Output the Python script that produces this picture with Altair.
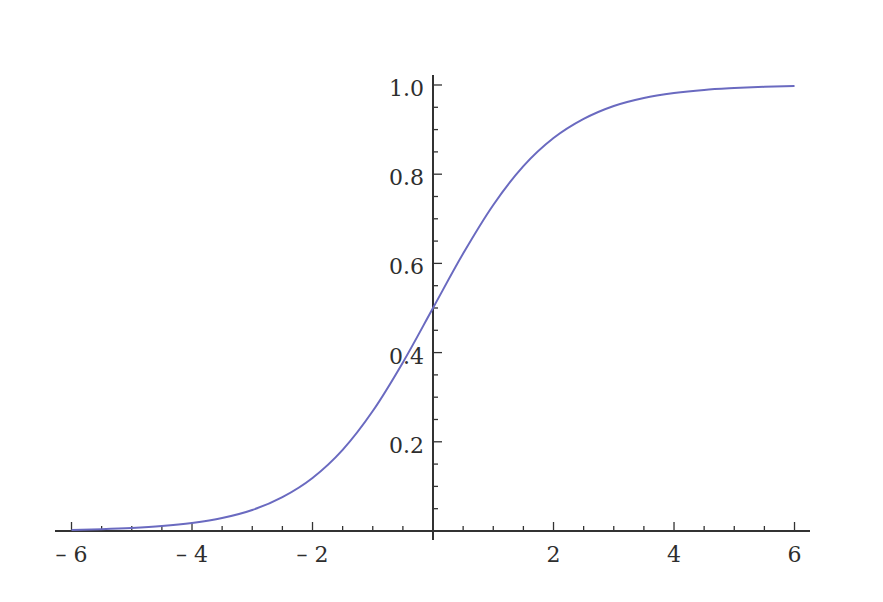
import altair as alt
import pandas as pd

# Curve values
curve_x = [-6, -5.5, -5, -4.5, -4, -3.5, -3, -2.5, -2, -1.5, -1, -0.5, 0,
           0.5, 1, 1.5, 2, 2.5, 3, 3.5, 4, 4.5, 5, 5.5, 6]
curve_y = [0.0025, 0.0041, 0.0067, 0.011, 0.018, 0.029, 0.047, 0.076, 0.119,
           0.182, 0.269, 0.378, 0.5, 0.622, 0.731, 0.818, 0.881, 0.924, 0.953,
           0.971, 0.982, 0.989, 0.993, 0.996, 0.998]

# Axis ticks and labels
x_major = [-6, -4, -2, 2, 4, 6]
x_labels = ["\u2013 6", "\u2013 4", "\u2013 2", "2", "4", "6"]
x_minor = [-5.5, -5, -4.5, -3.5, -3, -2.5, -1.5, -1, -0.5,
           0.5, 1, 1.5, 2.5, 3, 3.5, 4.5, 5, 5.5]
y_major = [0.2, 0.4, 0.6, 0.8, 1.0]
y_labels = ["0.2", "0.4", "0.6", "0.8", "1.0"]
y_minor = [0.05, 0.1, 0.15, 0.25, 0.3, 0.35, 0.45, 0.5, 0.55,
           0.65, 0.7, 0.75, 0.85, 0.9, 0.95]

x_domain = [-6.274, 6.257]
y_domain = [-0.0202, 1.0224]

xs = alt.Scale(domain=x_domain, nice=False, zero=False)
ys = alt.Scale(domain=y_domain, nice=False, zero=False)

AXIS_COLOR = "#333333"
TEXT_COLOR = "#2e2e2e"
FONT = "DejaVu Serif"
FS = 22

curve_df = pd.DataFrame({"x": curve_x, "y": curve_y})
xmaj_df = pd.DataFrame({"x": x_major, "label": x_labels})
xmin_df = pd.DataFrame({"x": x_minor})
ymaj_df = pd.DataFrame({"y": y_major, "label": y_labels})
ymin_df = pd.DataFrame({"y": y_minor})

x_axis_line = alt.Chart(curve_df).mark_rule(color=AXIS_COLOR, strokeWidth=1.6).encode(
    x=alt.datum(x_domain[0], scale=xs, axis=None),
    x2=alt.datum(x_domain[1]),
    y=alt.datum(0, scale=ys, axis=None),
)
y_axis_line = alt.Chart(curve_df).mark_rule(color=AXIS_COLOR, strokeWidth=1.6).encode(
    x=alt.datum(0, scale=xs, axis=None),
    y=alt.datum(y_domain[0], scale=ys, axis=None),
    y2=alt.datum(y_domain[1]),
)

x_major_ticks = alt.Chart(xmaj_df).mark_rule(color=AXIS_COLOR, strokeWidth=1.3, y2Offset=-9).encode(
    x=alt.X("x:Q", scale=xs, axis=None),
    y=alt.datum(0, scale=ys, axis=None),
    y2=alt.datum(0),
)
x_minor_ticks = alt.Chart(xmin_df).mark_rule(color=AXIS_COLOR, strokeWidth=1.3, y2Offset=-5).encode(
    x=alt.X("x:Q", scale=xs, axis=None),
    y=alt.datum(0, scale=ys, axis=None),
    y2=alt.datum(0),
)
y_major_ticks = alt.Chart(ymaj_df).mark_rule(color=AXIS_COLOR, strokeWidth=1.3, x2Offset=9).encode(
    y=alt.Y("y:Q", scale=ys, axis=None),
    x=alt.datum(0, scale=xs, axis=None),
    x2=alt.datum(0),
)
y_minor_ticks = alt.Chart(ymin_df).mark_rule(color=AXIS_COLOR, strokeWidth=1.3, x2Offset=5).encode(
    y=alt.Y("y:Q", scale=ys, axis=None),
    x=alt.datum(0, scale=xs, axis=None),
    x2=alt.datum(0),
)

x_text = alt.Chart(xmaj_df).mark_text(
    font=FONT, fontSize=FS, color=TEXT_COLOR, baseline="alphabetic", align="center", dy=31
).encode(
    x=alt.X("x:Q", scale=xs, axis=None),
    y=alt.datum(0, scale=ys, axis=None),
    text="label:N",
)
y_text = alt.Chart(ymaj_df).mark_text(
    font=FONT, fontSize=FS, color=TEXT_COLOR, baseline="alphabetic", align="right", dx=-9, dy=11
).encode(
    y=alt.Y("y:Q", scale=ys, axis=None),
    x=alt.datum(0, scale=xs, axis=None),
    text="label:N",
)

curve = alt.Chart(curve_df).mark_line(
    color="#6a6ac0", strokeWidth=2, interpolate="monotone"
).encode(
    x=alt.X("x:Q", scale=xs, axis=None),
    y=alt.Y("y:Q", scale=ys, axis=None),
)

chart = alt.layer(
    x_axis_line, y_axis_line, x_major_ticks, x_minor_ticks,
    y_major_ticks, y_minor_ticks, x_text, y_text, curve
).properties(
    width=755, height=465,
    autosize=alt.AutoSizeParams(type="none"),
    padding={"left": 47, "top": 67, "right": 40, "bottom": 40},
).configure_view(stroke=None)

chart.save("out.html", embed_options={"renderer": "svg", "actions": False})
